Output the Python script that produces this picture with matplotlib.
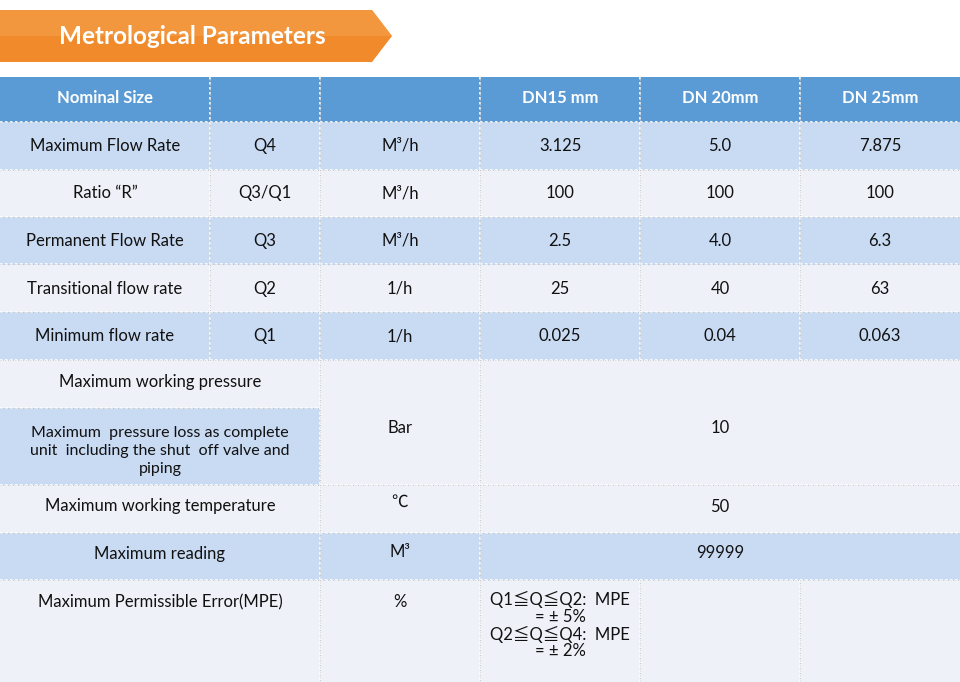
import matplotlib
matplotlib.use("Agg")
import matplotlib.pyplot as plt
from matplotlib.patches import Rectangle, Polygon

title = "Metrological Parameters"
header = ["Nominal Size", "", "", "DN15 mm", "DN 20mm", "DN 25mm"]
flow_names = ["Maximum Flow Rate", "Ratio \u201cR\u201d", "Permanent Flow Rate",
              "Transitional flow rate", "Minimum flow rate"]
flow_symbols = ["Q4", "Q3/Q1", "Q3", "Q2", "Q1"]
flow_units = ["M\u00b3/h", "M\u00b3/h", "M\u00b3/h", "1/h", "1/h"]
dn15 = ["3.125", "100", "2.5", "25", "0.025"]
dn20 = ["5.0", "100", "4.0", "40", "0.04"]
dn25 = ["7.875", "100", "6.3", "63", "0.063"]
pressure_names = ["Maximum working pressure",
                  "Maximum  pressure loss as complete\nunit  including the shut  off valve and\npiping"]
pressure_unit = "Bar"
pressure_value = "10"
temp_name, temp_unit, temp_value = "Maximum working temperature", "\u2103", "50"
read_name, read_unit, read_value = "Maximum reading", "M\u00b3", "99999"
mpe_name, mpe_unit = "Maximum Permissible Error(MPE)", "%"
mpe_text = "Q1\u2266Q\u2266Q2:  MPE\n= \u00b1 5%\nQ2\u2266Q\u2266Q4:  MPE\n= \u00b1 2%"

W, H = 960, 682
fig = plt.figure(figsize=(W/100, H/100), dpi=100)
ax = fig.add_axes([0, 0, 1, 1])
ax.set_xlim(0, W); ax.set_ylim(H, 0); ax.axis("off")

FONT = ["Lato", "Noto Sans CJK SC", "DejaVu Sans"]
BLUE_H = "#5b9bd5"; LIGHT = "#c9daf3"; PALE = "#eef1f7"
cols = [0, 210, 320, 480, 640, 800, 960]
fs = 12

def rect(x0, y0, x1, y1, c):
    ax.add_patch(Rectangle((x0, y0), x1-x0, y1-y0, facecolor=c, edgecolor="none"))

def txt(x, y, s, **kw):
    kw.setdefault("fontsize", fs)
    ax.text(x, y, s, ha="center", va="center", family=FONT, color=kw.pop("color", "#111111"),
            linespacing=1.35, **kw)

# banner
ax.add_patch(Polygon([(0, 10), (372, 10), (392, 36), (372, 62), (0, 62)], closed=True,
                     facecolor="#f08a2a", edgecolor="none"))
ax.add_patch(Polygon([(0, 10), (372, 10), (392, 36), (0, 36)], closed=True,
                     facecolor="#f5a04a", edgecolor="none", alpha=0.6))
txt(192, 36, title, color="white", fontsize=17.5, fontweight="bold")

# header
rect(0, 77, W, 122, BLUE_H)
for i, h in enumerate(header):
    if h:
        cx = 105 if i == 0 else (cols[i] + cols[i+1]) / 2
        txt(cx, 98, h, color="white", fontweight="bold", fontsize=12)

# flow rows
rh = 47.6
y = 122
for k in range(5):
    c = LIGHT if k % 2 == 0 else PALE
    rect(0, y, W, y + rh, c)
    cells = [flow_names[k], flow_symbols[k], flow_units[k], dn15[k], dn20[k], dn25[k]]
    for i, s in enumerate(cells):
        txt((cols[i] + cols[i+1]) / 2, y + rh/2, s)
    y += rh
# pressure rows
rect(0, 360, W, 485, PALE)
rect(0, 408, 320, 485, LIGHT)
txt(160, 382, pressure_names[0])
txt(160, 451, pressure_names[1], fontsize=11.5)
txt(400, 428, pressure_unit)
txt(720, 428, pressure_value)
# temp
rect(0, 485, W, 533, PALE)
txt(160, 506, temp_name); txt(400, 502, temp_unit); txt(720, 507, temp_value)
# reading
rect(0, 533, W, 580, LIGHT)
txt(160, 554, read_name); txt(400, 552, read_unit); txt(720, 553, read_value)
# MPE
rect(0, 580, W, H, PALE)
txt(160, 602, mpe_name); txt(400, 602, mpe_unit)
ax.text(560, 591, mpe_text, ha="center", va="top", family=FONT, fontsize=fs,
        color="#111111", linespacing=1.05)

# grid lines
lk = dict(color="white", lw=1.2, linestyle=(0, (1.5, 1.5)))
for yy in [122, 170, 217, 264, 312, 360, 408, 485, 533, 580]:
    x0, x1 = 0, W
    if yy == 408:
        x1 = 320
    ax.plot([x0, x1], [yy, yy], **lk)
    ax.plot([x0, x1], [yy, yy], color="#bbbbbb", lw=0.6, linestyle=(0, (1, 2)))
def vline(x, y0, y1):
    ax.plot([x, x], [y0, y1], **lk)
    ax.plot([x, x], [y0, y1], color="#bbbbbb", lw=0.6, linestyle=(0, (1, 2)))
vline(210, 77, 360)
vline(320, 77, H)
vline(480, 77, H)
vline(640, 77, 360); vline(640, 580, H)
vline(800, 77, 360); vline(800, 580, H)

fig.savefig("out.png", dpi=100)
